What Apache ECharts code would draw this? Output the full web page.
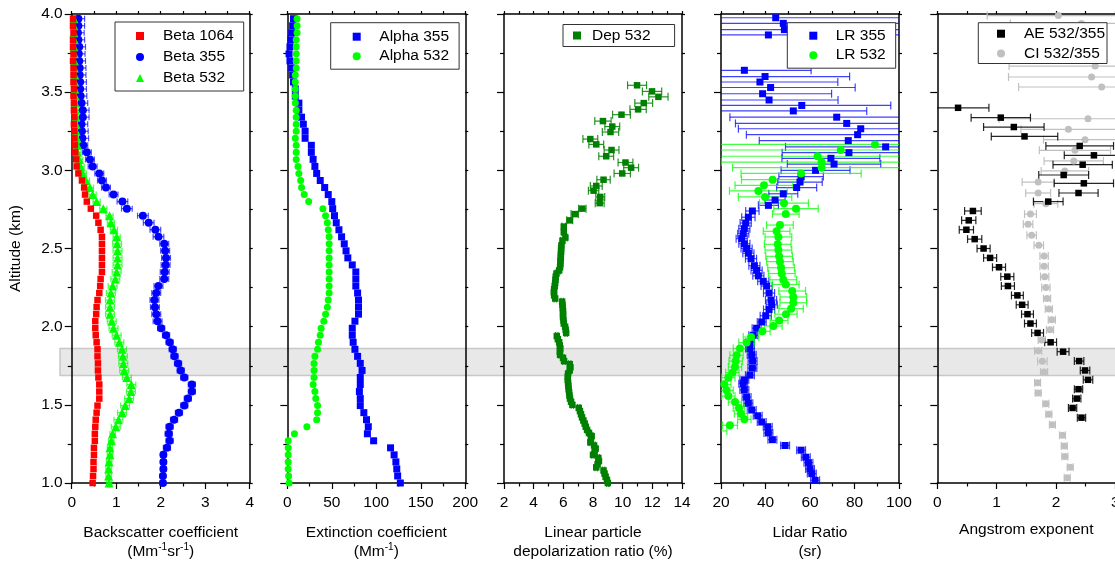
<!DOCTYPE html>
<html><head><meta charset="utf-8">
<script src="https://cdn.jsdelivr.net/npm/echarts/dist/echarts.min.js"></script>
<style>html,body{margin:0;padding:0;background:#fff}#c{width:1115px;height:562px}</style>
</head><body><div id="c"></div>
<script>
// ---------------- DATA ----------------
const altGrid = [1.000,1.045,1.090,1.135,1.180,1.225,1.270,1.315,1.360,1.405,1.450,1.495,1.540,1.585,1.630,1.675,1.720,1.765,1.810,1.855,1.900,1.945,1.990,2.035,2.080,2.125,2.170,2.215,2.260,2.305,2.350,2.395,2.440,2.485,2.530,2.575,2.620,2.665,2.710,2.755,2.800,2.845,2.890,2.935,2.980,3.025,3.070,3.115,3.160,3.205,3.250,3.295,3.340,3.385,3.430,3.475,3.520,3.565,3.610,3.655,3.700,3.745,3.790,3.835,3.880,3.925,3.970];

const beta1064 = [0.47,0.48,0.49,0.49,0.50,0.50,0.52,0.52,0.53,0.54, 0.56,0.58,0.62,0.62,0.62,0.60,0.59,0.59,0.58,0.58, 0.56,0.54,0.53,0.53,0.55,0.56,0.58,0.62,0.64,0.65, 0.68,0.68,0.68,0.68,0.68,0.68,0.65,0.60,0.55,0.43, 0.34,0.30,0.28,0.23,0.15,0.11,0.10,0.08,0.07,0.06, 0.06,0.05,0.06,0.05,0.05,0.04,0.05,0.04,0.04,0.04, 0.03,0.04,0.03,0.03,0.04,0.03,0.03];
const beta1064Err = [0.03,0.03,0.03,0.03,0.03,0.03,0.03,0.03,0.03,0.03, 0.03,0.03,0.03,0.03,0.03,0.03,0.03,0.03,0.03,0.03, 0.03,0.03,0.03,0.03,0.03,0.03,0.03,0.03,0.03,0.03, 0.03,0.03,0.03,0.03,0.03,0.03,0.03,0.03,0.03,0.03, 0.03,0.03,0.03,0.03,0.03,0.03,0.03,0.03,0.03,0.03, 0.03,0.03,0.03,0.03,0.03,0.03,0.03,0.03,0.03,0.03, 0.03,0.03,0.03,0.03,0.03,0.03,0.03];
const beta355 = [2.05,2.05,2.06,2.06,2.06,2.14,2.20,2.18,2.20,2.30, 2.41,2.53,2.61,2.70,2.70,2.53,2.45,2.39,2.31,2.27, 2.20,2.12,2.01,1.93,1.90,1.87,1.86,1.90,1.95,2.08, 2.09,2.11,2.12,2.10,2.08,1.95,1.88,1.73,1.60,1.24, 1.14,0.94,0.77,0.68,0.62,0.47,0.41,0.34,0.26,0.24, 0.23,0.22,0.25,0.25,0.22,0.20,0.19,0.19,0.18,0.18, 0.17,0.16,0.17,0.15,0.14,0.15,0.15];
const beta355Err = [0.06,0.06,0.06,0.06,0.06,0.08,0.08,0.08,0.08,0.08, 0.08,0.08,0.08,0.08,0.08,0.08,0.08,0.08,0.08,0.08, 0.08,0.08,0.08,0.10,0.10,0.10,0.10,0.10,0.10,0.10, 0.10,0.10,0.10,0.10,0.10,0.12,0.12,0.12,0.12,0.12, 0.12,0.10,0.10,0.10,0.10,0.10,0.10,0.10,0.10,0.14, 0.14,0.14,0.14,0.14,0.14,0.14,0.14,0.14,0.14,0.14, 0.14,0.14,0.14,0.14,0.14,0.14,0.14];
const beta532 = [0.84,0.83,0.83,0.84,0.86,0.86,0.89,0.92,0.99,1.05, 1.13,1.20,1.29,1.33,1.34,1.24,1.18,1.16,1.15,1.13, 1.07,1.01,0.94,0.90,0.86,0.86,0.86,0.88,0.92,0.98, 1.01,1.03,1.03,1.03,1.02,1.01,0.95,0.88,0.85,0.71, 0.56,0.47,0.41,0.32,0.25,0.20,0.17,0.13,0.13,0.12, 0.10,0.10,0.09,0.09,0.08,0.08,0.07,0.07,0.07,0.06, 0.06,0.06,0.05,0.06,0.05,0.05,0.05];
const beta532Err = [0.06,0.06,0.06,0.06,0.06,0.06,0.06,0.06,0.10,0.10, 0.10,0.10,0.10,0.10,0.10,0.10,0.10,0.10,0.10,0.10, 0.10,0.10,0.10,0.10,0.10,0.10,0.10,0.10,0.10,0.10, 0.10,0.10,0.10,0.10,0.10,0.08,0.08,0.08,0.08,0.08, 0.08,0.08,0.08,0.08,0.08,0.08,0.08,0.08,0.08,0.08, 0.07,0.07,0.07,0.07,0.07,0.07,0.07,0.07,0.07,0.07, 0.07,0.07,0.07,0.07,0.07,0.07,0.07];

const alpha355 = [127,124,123,122,120,116,97,90,91,89, 86,82,82,81,82,82,84,82,79,76, 74,73,73,76,80,80,80,79,77,77, 77,73,68,66,64,61,58,55,53,51, 50,46,42,37,33,31,29,27,27,20, 20,18,16,13,13,9,9,7,6,5, 3,2,3,4,5,6,7];
const alpha532 = [2,1.5,1,1,1,1,1,8,22,33, 34,34,32,31,29,30,30,30,31,34, 35,37,38,41,43,45,46,47,47,47, 47,47,47,47,47,47,46,45,43,40, 24,19,16,15,13,12,10,10,10,9, 10,10,10,10,9,9,9,9,9,10, 10,10,10,10,11,11,11];

const depAlt = [1.00,1.02,1.04,1.06,1.08,1.10,1.12,1.14,1.16,1.18,1.20,1.22,1.24,1.26,1.28,1.30,1.32,1.34,1.36,1.38,1.40,1.42,1.44,1.46,1.48,1.50,1.52,1.54,1.56,1.58,1.60,1.62,1.64,1.66,1.68,1.70,1.72,1.74,1.76,1.78,1.80,1.82,1.84,1.86,1.88,1.90,1.92,1.94,1.96,1.98,2.00,2.02,2.04,2.06,2.08,2.10,2.12,2.14,2.16,2.18,2.20,2.22,2.24,2.26,2.28,2.30,2.32,2.34,2.36,2.38,2.40,2.42,2.44,2.46,2.48,2.50,2.52,2.550,2.570,2.605,2.640,2.680,2.720,2.755,2.790,2.830,2.870,2.900,2.940,2.980,3.017,3.050,3.090,3.130,3.166,3.200,3.245,3.280,3.315,3.356,3.390,3.430,3.470,3.505,3.544];
const dep532 = [9.00,8.94,8.85,8.78,8.71,8.22,8.31,8.40,8.36,8.00,8.11,8.18,8.07,7.82,7.86,7.91,7.73,7.60,7.51,7.44,7.35,7.26,7.19,7.12,7.04,6.61,6.52,6.45,6.41,6.39,6.36,6.34,6.32,6.30,6.30,6.32,6.43,6.48,6.43,6.05,5.98,5.78,5.76,5.80,5.76,5.72,5.63,5.56,6.19,6.16,6.12,6.03,6.01,5.98,5.98,5.98,5.96,5.94,5.92,5.45,5.38,5.36,5.38,5.42,5.45,5.47,5.49,5.54,5.72,5.78,5.80,5.80,5.83,5.83,5.85,5.85,5.87,5.94,6.14,6.03,6.03,6.43,6.77,7.28,8.45,8.49,8.04,8.22,8.71,9.97,10.57,10.19,8.89,9.25,8.22,7.82,9.18,9.30,8.67,9.92,11.04,11.42,12.41,11.98,10.97];
const dep532Err = [0.08,0.08,0.08,0.08,0.08,0.08,0.08,0.08,0.08,0.08,0.08,0.08,0.08,0.08,0.08,0.08,0.08,0.08,0.08,0.08,0.08,0.08,0.08,0.08,0.08,0.08,0.08,0.08,0.08,0.08,0.08,0.08,0.08,0.08,0.08,0.08,0.08,0.08,0.08,0.08,0.08,0.08,0.08,0.08,0.08,0.08,0.08,0.08,0.08,0.08,0.08,0.08,0.08,0.08,0.08,0.08,0.08,0.08,0.08,0.08,0.08,0.08,0.08,0.08,0.08,0.08,0.08,0.08,0.08,0.08,0.08,0.08,0.08,0.08,0.08,0.08,0.08,0.12,0.12,0.12,0.12,0.2,0.25,0.25,0.3,0.3,0.35,0.4,0.45,0.55,0.5,0.5,0.5,0.5,0.5,0.5,0.55,0.5,0.55,0.6,0.55,0.6,0.65,0.65,0.64];

const lr355Alt = [1.017,1.060,1.090,1.130,1.165,1.210,1.240,1.277,1.320,1.360,1.390,1.430,1.467,1.510,1.550,1.595,1.635,1.660,1.690,1.735,1.780,1.820,1.860,1.900,1.945,1.990,2.030,2.070,2.110,2.140,2.170,2.215,2.260,2.290,2.325,2.360,2.390,2.435,2.470,2.500,2.530,2.563,2.595,2.627,2.663,2.700,2.740,2.776,2.810,2.850,2.890,2.925,2.960,3.000,3.040,3.077,3.113,3.150,3.190,3.228,3.266,3.300,3.340,3.380,3.415,3.450,3.490,3.530,3.565,3.600,3.640,3.866,3.900,3.940,3.976];
const lr355 = [62.3,60.8,60.0,59.3,58.1,56.0,48.8,43.1,41.3,41.0,38.3,36.5,33.8,32.3,31.5,30.5,30.0,30.5,33.0,34.1,34.2,33.8,33.0,33.0,34.5,36.0,38.3,40.1,41.6,42.8,42.5,41.6,40.5,39.0,36.8,36.0,35.0,33.5,32.3,31.5,30.5,29.3,30.0,30.5,31.1,32.3,34.1,41.3,44.3,48.0,54.0,55.5,56.0,62.5,70.8,69.4,77.5,94.0,77.2,81.4,82.8,76.5,72.0,52.5,56.3,41.6,38.7,42.3,37.5,39.8,30.5,41.3,48.5,48.0,44.6];
const lr355Err = [2,2,2,2,2,2,2,2,2,2,2,2,2,2,2,2,2,2,2,2,2,2,2,2,2,2,2,2.5,2.5,2.5,2.5,2.5,2.5,2.5,2.5,2.5,2.5,2.5,2.5,2.5,2.5,2.5,2.5,2.5,2.5,3,3,4.5,4.5,6.5,9,10,10,15.5,21,22,30,45,40,50,55,50,48,33,40,31,31,38,35,38,30,60,60,60,60];

const lr532Alt = [1.333,1.369,1.407,1.443,1.480,1.518,1.556,1.593,1.631,1.674,1.706,1.742,1.780,1.817,1.860,1.898,1.934,1.970,2.004,2.040,2.080,2.115,2.153,2.190,2.228,2.270,2.300,2.340,2.377,2.416,2.450,2.490,2.527,2.574,2.610,2.650,2.720,2.755,2.790,2.830,2.868,2.904,2.940,2.980,3.017,3.053,3.090,3.130,3.166];
const lr532 = [19.6,24.0,30.5,29.0,28.1,26.3,23.3,22.5,21.5,23.3,25.1,26.3,26.6,27.0,28.5,31.5,33.5,38.6,43.5,46.1,49.2,51.5,52.5,52.5,52.0,49.1,48.0,47.3,47.0,46.5,46.1,45.8,45.5,45.8,45.0,46.5,49.1,53.7,48.3,39.8,36.8,39.3,43.2,56.0,65.2,65.2,63.4,73.8,89.2];
const lr532Err = [3,3.4,3,3,2.6,3,3,3,3,3,3,3,3,3,3,3.5,3.5,3.5,4,4,5,5.5,6,6,6,6,6,6,6,6,6,6,6,6,6,6,6,10,11,12,13,13,14,27,40,45,50,60,70];

const aeAlt = [1.418,1.480,1.540,1.600,1.660,1.720,1.780,1.840,1.900,1.960,2.020,2.080,2.140,2.200,2.260,2.320,2.380,2.440,2.500,2.560,2.620,2.680,2.740,2.800,2.855,2.917,2.970,3.036,3.096,3.156,3.217,3.277,3.337,3.400];
const ae = [2.43,2.28,2.35,2.38,2.54,2.49,2.39,2.12,1.91,1.69,1.57,1.52,1.43,1.35,1.19,1.18,1.04,0.89,0.78,0.63,0.49,0.53,0.60,1.87,2.38,2.47,2.13,2.45,2.64,2.40,1.47,1.29,1.07,0.35];
const aeErr = [0.07,0.07,0.07,0.07,0.08,0.08,0.08,0.10,0.10,0.10,0.10,0.10,0.10,0.10,0.11,0.11,0.11,0.11,0.11,0.12,0.12,0.12,0.14,0.25,0.33,0.5,0.42,0.5,0.5,0.57,0.56,0.51,0.5,0.52];

const ciAlt = [1.034,1.100,1.170,1.237,1.305,1.373,1.440,1.507,1.576,1.642,1.710,1.778,1.846,1.915,1.980,2.045,2.113,2.180,2.250,2.320,2.386,2.452,2.520,2.584,2.655,2.720,2.787,2.855,2.925,2.996,3.060,3.128,3.196,3.262,3.330,3.533,3.597,3.667,3.940,3.990];
const ci = [2.19,2.24,2.15,2.14,2.11,1.94,1.88,1.83,1.70,1.69,1.80,1.77,1.70,1.76,1.90,1.93,1.88,1.85,1.83,1.81,1.80,1.80,1.71,1.59,1.53,1.57,1.83,1.70,1.70,2.15,2.30,2.32,2.49,2.21,2.54,2.77,2.60,2.66,2.43,2.04];
const ciErr = [0.05,0.05,0.05,0.05,0.05,0.05,0.05,0.05,0.05,0.05,0.06,0.08,0.06,0.06,0.06,0.06,0.06,0.06,0.07,0.07,0.07,0.07,0.08,0.08,0.08,0.1,0.2,0.21,0.27,0.4,0.5,0.6,0.7,0.8,1.5,1.4,1.4,1.45,1.2,1.2];

const bandLow = 1.687, bandHigh = 1.86;

// ---------------- CHART ----------------
const FONT = '"Liberation Sans", Arial, Helvetica, sans-serif';
const FS = 15.5;
const BLUE = '#0000ff', RED = '#ff0000', LGREEN = '#00ff00', DGREEN = '#008000', GRAY = '#c0c0c0';
const rich = {
  t: {fontSize: FS, fontFamily: FONT, color: '#000', lineHeight: 19},
  s: {fontSize: 10, fontFamily: FONT, color: '#000', lineHeight: 8, verticalAlign: 'top'}
};
const panels = [
  {left: 71.7, min: 0, max: 4, interval: 1, top: 0.5, gap: 40, name: '{t|Backscatter coefficient}\n{t|(Mm}{s|-1}{t|sr}{s|-1}{t|)}'},
  {left: 287.3, min: 0, max: 200, interval: 50, top: 25, gap: 40, name: '{t|Extinction coefficient}\n{t|(Mm}{s|-1}{t|)}'},
  {left: 504, min: 2, max: 14, interval: 2, top: 1, gap: 40, name: '{t|Linear particle}\n{t|depolarization ratio (%)}'},
  {left: 721, min: 20, max: 100, interval: 20, top: 10, gap: 40, name: '{t|Lidar Ratio}\n{t|(sr)}'},
  {left: 937.3, min: 0, max: 3, interval: 1, top: 0.5, gap: 37, name: '{t|Angstrom exponent}'}
];
const W = 178, TOP = 14, H = 469;
const axisLine = {show: true, onZero: false, lineStyle: {color: '#000', width: 1.5}};
const tickStyle = {color: '#000', width: 1.2};

const grid = [], xAxis = [], yAxis = [];
panels.forEach((p, i) => {
  grid.push({left: p.left, top: TOP, width: W, height: H, containLabel: false, outerBoundsMode: 'none'});
  xAxis.push({gridIndex: i, type: 'value', position: 'bottom', min: p.min, max: p.max, interval: p.interval,
    axisLine, axisTick: {show: true, length: 6, lineStyle: tickStyle},
    minorTick: {show: true, splitNumber: 2, length: 3.5, lineStyle: tickStyle},
    splitLine: {show: false}, minorSplitLine: {show: false},
    axisLabel: {fontSize: FS, color: '#000', fontFamily: FONT, margin: 12},
    name: p.name, nameLocation: 'middle', nameGap: p.gap, nameTextStyle: {rich: rich, color: '#000'}});
  xAxis.push({gridIndex: i, type: 'value', position: 'top', min: p.min, max: p.max, interval: p.top,
    axisLine, axisTick: {show: true, length: 3, lineStyle: tickStyle},
    splitLine: {show: false}, axisLabel: {show: false}});
  yAxis.push({gridIndex: i, type: 'value', position: 'left', min: 1, max: 4, interval: 0.5,
    axisLine, axisTick: {show: true, length: 7, lineStyle: tickStyle},
    minorTick: {show: true, splitNumber: 2, length: 4, lineStyle: tickStyle},
    splitLine: {show: false}, minorSplitLine: {show: false},
    axisLabel: {show: i === 0, fontSize: FS, color: '#000', fontFamily: FONT, margin: 9, formatter: v => v.toFixed(1)},
    name: i === 0 ? 'Altitude (km)' : '', nameLocation: 'middle', nameGap: 48, nameRotate: 90,
    nameTextStyle: {fontSize: FS, fontFamily: FONT, color: '#000'}});
  yAxis.push({gridIndex: i, type: 'value', position: 'right', min: 1, max: 4, interval: 0.25,
    axisLine, axisTick: {show: true, length: 3, lineStyle: tickStyle},
    splitLine: {show: false}, axisLabel: {show: false}});
});

function scatter(name, idx, xs, ys, symbol, size, color) {
  return {type: 'scatter', name, xAxisIndex: 2 * idx, yAxisIndex: 2 * idx, symbol, symbolSize: size,
    itemStyle: {color, opacity: 1}, z: 4, clip: true, silent: true,
    data: ys.map((a, k) => [xs[k], a])};
}
function errbars(name, idx, xs, ys, es, color, cap, width, opacity) {
  return {type: 'custom', name: name + ' err', xAxisIndex: 2 * idx, yAxisIndex: 2 * idx, z: 3, silent: true,
    encode: {x: 0, y: 1},
    data: ys.map((a, k) => [xs[k], a, es[k]]),
    renderItem: function (params, api) {
      const x = api.value(0), y = api.value(1), e = api.value(2);
      const cs = params.coordSys;
      const p1 = api.coord([x - e, y]), p2 = api.coord([x + e, y]);
      const xmin = cs.x, xmax = cs.x + cs.width;
      if (p1[1] < cs.y - 0.5 || p1[1] > cs.y + cs.height + 0.5) return;
      const l = Math.max(p1[0], xmin), r = Math.min(p2[0], xmax);
      if (r <= l) return;
      const st = {stroke: color, lineWidth: width, opacity: opacity};
      const ch = [{type: 'line', shape: {x1: l, y1: p1[1], x2: r, y2: p1[1]}, style: st}];
      if (p1[0] >= xmin) ch.push({type: 'line', shape: {x1: p1[0], y1: p1[1] - cap, x2: p1[0], y2: p1[1] + cap}, style: st});
      if (p2[0] <= xmax) ch.push({type: 'line', shape: {x1: p2[0], y1: p2[1] - cap, x2: p2[0], y2: p2[1] + cap}, style: st});
      return {type: 'group', children: ch};
    }};
}

const series = [
  errbars('Beta 355', 0, beta355, altGrid, beta355Err, BLUE, 3, 1.2, 0.7),
  errbars('Beta 532', 0, beta532, altGrid, beta532Err, LGREEN, 3, 1.2, 0.7),
  errbars('Beta 1064', 0, beta1064, altGrid, beta1064Err, RED, 2.5, 1.2, 0.6),
  scatter('Beta 355', 0, beta355, altGrid, 'circle', 8, BLUE),
  scatter('Beta 532', 0, beta532, altGrid, 'triangle', 9, LGREEN),
  scatter('Beta 1064', 0, beta1064, altGrid, 'rect', 6.5, RED),
  scatter('Alpha 355', 1, alpha355, altGrid, 'rect', 7, BLUE),
  scatter('Alpha 532', 1, alpha532, altGrid, 'circle', 7, LGREEN),
  errbars('Dep 532', 2, dep532, depAlt, dep532Err, DGREEN, 4, 1.2, 0.85),
  scatter('Dep 532', 2, dep532, depAlt, 'rect', 6.5, DGREEN),
  errbars('LR 355', 3, lr355, lr355Alt, lr355Err, BLUE, 4, 1.2, 0.75),
  errbars('LR 532', 3, lr532, lr532Alt, lr532Err, LGREEN, 4, 1.2, 0.75),
  scatter('LR 355', 3, lr355, lr355Alt, 'rect', 7, BLUE),
  scatter('LR 532', 3, lr532, lr532Alt, 'circle', 8, LGREEN),
  errbars('CI 532/355', 4, ci, ciAlt, ciErr, GRAY, 4, 1.2, 1),
  errbars('AE 532/355', 4, ae, aeAlt, aeErr, '#000', 4, 1.2, 0.85),
  scatter('CI 532/355', 4, ci, ciAlt, 'circle', 7, GRAY),
  scatter('AE 532/355', 4, ae, aeAlt, 'rect', 6.5, '#000')
];

function legend(left, top, names, pad, gap, tpad) {
  return {left, top, orient: 'vertical', data: names, selectedMode: false,
    itemWidth: 8, itemHeight: 8, itemGap: gap, padding: pad,
    borderColor: '#333', borderWidth: 1, backgroundColor: '#fff', z: 10,
    textStyle: {fontSize: FS, fontFamily: FONT, color: '#000', padding: [0, 0, 0, tpad]}};
}

const chart = echarts.init(document.getElementById('c'), null, {renderer: 'canvas'});
chart.setOption({
  animation: false,
  backgroundColor: '#fff',
  grid, xAxis, yAxis, series,
  legend: [
    legend(115, 22, ['Beta 1064', 'Beta 355', 'Beta 532'], [6, 10, 5, 21], 5, 14),
    legend(330.7, 22.7, ['Alpha 355', 'Alpha 532'], [6, 10, 5, 22], 3.5, 13.6),
    legend(563, 24.5, ['Dep 532'], [3, 24, 3, 10], 3, 6),
    legend(787.3, 22.7, ['LR 355', 'LR 532'], [5, 10, 5, 22], 3.5, 13.4),
    legend(978.3, 22.7, ['AE 532/355', 'CI 532/355'], [3, 2, 2, 18.7], 3.8, 14)
  ]
});
// shaded altitude band across all panels, positioned through the y scale
const yHi = chart.convertToPixel({yAxisIndex: 0}, bandHigh);
const yLo = chart.convertToPixel({yAxisIndex: 0}, bandLow);
chart.setOption({
  graphic: [{type: 'rect', z: -1, silent: true, shape: {x: 60, y: yHi, width: 1060, height: yLo - yHi},
    style: {fill: '#e8e8e8', stroke: '#c8c8c8', lineWidth: 1.5}}]
});
</script></body></html>
